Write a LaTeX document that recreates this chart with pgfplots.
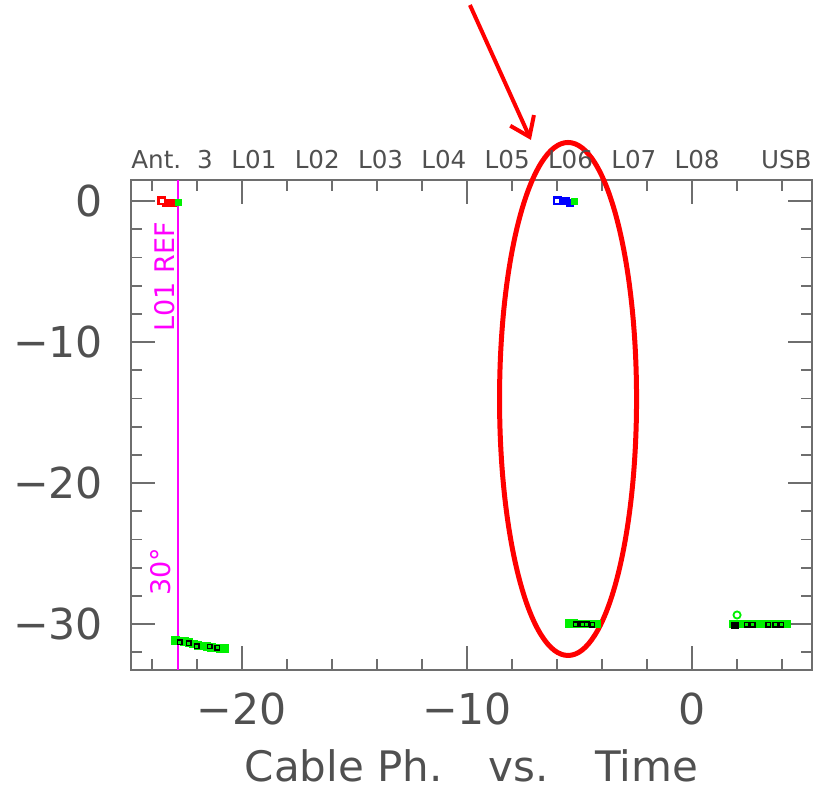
\documentclass[border=0pt]{standalone}
\usepackage{pgfplots}
\pgfplotsset{compat=1.18}
\usepackage{fontspec}
\setmainfont{DejaVu Sans}
\usetikzlibrary{arrows.meta}
\definecolor{framegray}{RGB}{110,110,110}
\definecolor{textgray}{RGB}{80,80,80}
\definecolor{pgmagenta}{RGB}{255,0,255}
\definecolor{pggreen}{RGB}{0,240,0}
\definecolor{pgblue}{RGB}{0,0,255}
\definecolor{pgred}{RGB}{255,0,0}

\begin{document}
\begin{tikzpicture}
\useasboundingbox (-65.5pt,-60pt) rectangle (341.5pt,335pt);
\begin{axis}[
  at={(0,0)}, anchor=south west,
  scale only axis, width=340.5pt, height=245pt,
  xmin=-24.93, xmax=5.33, ymin=-33.26, ymax=1.49,
  clip=false,
  axis line style={framegray, line width=1.1pt},
  xtick={-20,-10,0}, xticklabels={−20,−10,0},
  ytick={-30,-20,-10,0}, yticklabels={−30,−20,−10,0},
  minor xtick={-24,-22,...,4}, minor ytick={-32,-30,...,0},
  tick align=inside,
  major tick length=12pt, minor tick length=5.5pt,
  tick style={framegray, line width=0.9pt},
  ticklabel style={font=\fontsize{21.3}{21.3}\selectfont, text=textgray},
  xticklabel style={yshift=-8pt},
  yticklabel style={xshift=-10.5pt},
]
% reference line
\addplot[pgmagenta, line width=1pt] coordinates {(-22.84,-33.26) (-22.84,1.49)};

% Ant. 3 / LO1 readings near zero
\addplot[only marks, mark=square*, mark size=1.75pt, mark options={draw=pgred, fill=pgred}]
  coordinates {(-23.38,-0.1) (-23.2,-0.1) (-23.07,-0.15)};
\addplot[only marks, mark=square*, mark size=1.6pt, mark options={draw=pgred, fill=white, line width=1.3pt}]
  coordinates {(-23.56,0)};
\addplot[only marks, mark=square*, mark size=1.5pt, mark options={draw=pggreen, fill=pggreen}]
  coordinates {(-22.84,-0.1)};

% LO6 readings near zero
\addplot[only marks, mark=square*, mark size=1.75pt, mark options={draw=pgblue, fill=pgblue}]
  coordinates {(-5.78,0) (-5.6,0) (-5.42,-0.1)};
\addplot[only marks, mark=square*, mark size=1.6pt, mark options={draw=pgblue, fill=white, line width=1.3pt}]
  coordinates {(-6.0,0)};
\addplot[only marks, mark=square*, mark size=1.5pt, mark options={draw=pggreen, fill=pggreen}]
  coordinates {(-5.24,0)};

% cable phase, first block
\addplot[only marks, mark=square*, mark size=1.9pt, mark options={draw=pggreen, fill=pggreen}]
  coordinates {(-22.95,-31.15) (-22.75,-31.2) (-22.55,-31.25) (-22.35,-31.3)
               (-22.15,-31.4) (-21.95,-31.5) (-21.75,-31.55) (-21.55,-31.6)
               (-21.35,-31.65) (-21.15,-31.7) (-20.95,-31.75) (-20.75,-31.75)};
\addplot[only marks, mark=square, mark size=1.1pt, mark options={draw=black, line width=0.7pt}]
  coordinates {(-22.76,-31.28) (-22.36,-31.35) (-22.0,-31.56) (-21.42,-31.6) (-21.1,-31.7)};

% cable phase, second block
\addplot[only marks, mark=square*, mark size=1.9pt, mark options={draw=pggreen, fill=pggreen}]
  coordinates {(-5.45,-29.95) (-5.25,-29.95) (-5.05,-30.0) (-4.85,-30.0)
               (-4.65,-30.0) (-4.45,-30.0) (-4.25,-30.0)};
\addplot[only marks, mark=square, mark size=1.1pt, mark options={draw=black, line width=0.7pt}]
  coordinates {(-5.16,-30.0) (-4.89,-30.0) (-4.67,-30.0) (-4.44,-30.05)};

% cable phase, third block
\addplot[only marks, mark=square*, mark size=1.9pt, mark options={draw=pggreen, fill=pggreen}]
  coordinates {(1.85,-30.0) (2.05,-30.0) (2.25,-30.0) (2.45,-30.0) (2.65,-30.0)
               (2.85,-30.0) (3.05,-30.0) (3.25,-30.0) (3.45,-30.0) (3.65,-30.0)
               (3.85,-30.0) (4.05,-30.0) (4.2,-30.0)};
\addplot[only marks, mark=square*, mark size=1.6pt, mark options={draw=black, fill=black}]
  coordinates {(1.91,-30.1)};
\addplot[only marks, mark=square, mark size=1.1pt, mark options={draw=black, line width=0.7pt}]
  coordinates {(2.44,-30.05) (2.7,-30.05) (3.38,-30.05) (3.7,-30.05) (3.96,-30.05)};
\addplot[only marks, mark=o, mark size=1.8pt, mark options={draw=pggreen, line width=0.9pt}]
  coordinates {(2.0,-29.36)};

% labels along the reference line
\node[rotate=90, text=pgmagenta, font=\fontsize{13.5}{13.5}\selectfont]
  at (axis cs:-23.42,-5.39) {L01 REF};
\node[rotate=90, text=pgmagenta, font=\fontsize{13.5}{13.5}\selectfont]
  at (axis cs:-23.6,-26.3) {30°};

% highlight
\draw[pgred, line width=2.5pt] (axis cs:-5.51,-14.04) ellipse [x radius=34.25pt, y radius=128.25pt];
\draw[pgred, line width=2pt, -{Straight Barb[length=9pt, width=13pt]}]
  (axis cs:-9.87,13.9) -- (axis cs:-7.16,4.33);
\end{axis}

% station labels above the frame
\begin{scope}[every node/.style={font=\fontsize{12.3}{12.3}\selectfont, text=textgray, inner sep=0pt}]
  \node[anchor=west] at (0pt,255pt) {Ant.};
  \node at (37pt,255pt) {3};
  \foreach \k/\lab in {0/L01,1/L02,2/L03,3/L04,4/L05,5/L06,6/L07,7/L08}
    \node at ({61.5pt+\k*31.65pt},255pt) {\lab};
  \node[anchor=east] at (340.5pt,255pt) {USB};
\end{scope}

% axis title below
\node[font=\fontsize{21}{21}\selectfont, text=textgray, inner sep=0pt] at (170.25pt,-48pt)
  {Cable Ph.\hspace{1.1em}vs.\hspace{1.1em}Time};
\end{tikzpicture}
\end{document}
